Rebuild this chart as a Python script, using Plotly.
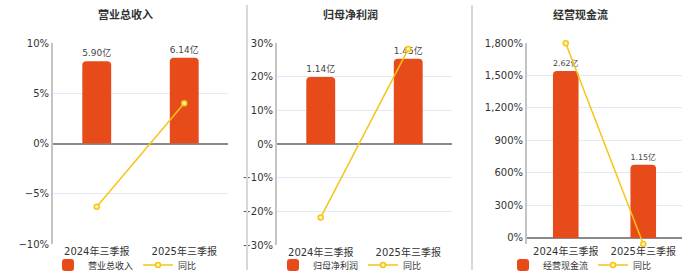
import plotly.graph_objects as go

W, H = 700, 272

categories = ["2024年三季报", "2025年三季报"]
titles = ["营业总收入", "归母净利润", "经营现金流"]

revenue = [5.90, 6.14]
revenue_yoy = [-6.3, 4.0]
profit = [1.14, 1.45]
profit_yoy = [-21.8, 28.2]
cashflow = [2.62, 1.15]
cashflow_yoy = [1797, -56]

bar_values = [revenue, profit, cashflow]
yoy_values = [revenue_yoy, profit_yoy, cashflow_yoy]

pct_ranges = [[-10, 10], [-30, 30], [-56, 1800]]
pct_dticks = [5, 10, 300]
bar_ranges = [[-7.2, 7.2], [-1.72, 1.72], [-0.094, 3.06]]

x_px = [(53, 228), (277, 452), (527, 682)]
y_px = [(43, 244), (43, 245), (43, 244)]
centers = [125, 350, 580]

BAR = "#E84B1A"
LINE = "#F5C518"
FONT = "Verdana, DejaVu Sans, Noto Sans CJK SC, sans-serif"

fig = go.Figure()
layout = dict(
    width=W, height=H, margin=dict(l=0, r=0, t=0, b=0, autoexpand=False),
    paper_bgcolor="white", plot_bgcolor="white",
    font=dict(family=FONT, size=10, color="#333"),
    barcornerradius=4,
    showlegend=True,
)

for i in range(3):
    n = i + 1
    xname = "x" if n == 1 else f"x{n}"
    ybar = "y" if n == 1 else f"y{n}"
    ypct = f"y{n + 3}"
    xkey = "xaxis" if n == 1 else f"xaxis{n}"
    ybarkey = "yaxis" if n == 1 else f"yaxis{n}"
    ypctkey = f"yaxis{n + 3}"
    legkey = "legend" if n == 1 else f"legend{n}"

    fig.add_trace(go.Bar(
        x=categories, y=bar_values[i], xaxis=xname, yaxis=ybar,
        name=titles[i], marker=dict(color=BAR, line=dict(width=0)),
        width=0.33,
        text=[f"{v:.2f}亿" for v in bar_values[i]],
        textposition="outside", textfont=dict(size=10, color="#444"),
        cliponaxis=False, legend=legkey, hoverinfo="skip",
    ))
    fig.add_trace(go.Scatter(
        x=categories, y=yoy_values[i], xaxis=xname, yaxis=ypct,
        name="同比", mode="lines+markers",
        line=dict(color=LINE, width=1.5),
        marker=dict(size=5, color="#FFF3B0", line=dict(color=LINE, width=1.5)),
        cliponaxis=False, legend=legkey, hoverinfo="skip",
    ))

    x0, x1 = x_px[i]
    yt, yb = y_px[i]
    layout[xkey] = dict(
        domain=[x0 / W, x1 / W], anchor=ybar, type="category",
        showgrid=False, showline=False, ticks="", automargin=False,
        tickfont=dict(size=10, color="#333"), fixedrange=True,
    )
    layout[ybarkey] = dict(
        domain=[1 - yb / H, 1 - yt / H], anchor=xname,
        range=bar_ranges[i], showgrid=False, zeroline=False,
        showticklabels=False, showline=False, fixedrange=True,
        automargin=False,
    )
    layout[ypctkey] = dict(
        overlaying=ybar, anchor=xname, side="left",
        range=pct_ranges[i], dtick=pct_dticks[i], tick0=0,
        ticksuffix="%", tickformat=",d", automargin=False,
        showgrid=True, gridcolor="#E6E9F4", gridwidth=1,
        zeroline=True, zerolinecolor="#8A8A8A", zerolinewidth=1.5,
        showline=True, linecolor="#C4C4C4", linewidth=2,
        tickfont=dict(size=10, color="#333"), fixedrange=True,
    )
    layout[legkey] = dict(
        orientation="h", x=centers[i] / W, xanchor="center",
        y=1 - 265 / H, yanchor="middle",
        font=dict(size=9, color="#333"), itemwidth=30,
        bgcolor="rgba(0,0,0,0)", tracegroupgap=0,
    )

fig.update_layout(**layout)

for i in range(3):
    fig.add_annotation(
        x=centers[i] / W, y=1 - 15 / H, xref="paper", yref="paper",
        xanchor="center", yanchor="middle",
        text=f"<b>{titles[i]}</b>", showarrow=False,
        font=dict(size=11, color="#333"),
    )

for sx in (247, 472):
    fig.add_shape(
        type="line", xref="paper", yref="paper",
        x0=sx / W, x1=sx / W, y0=1 - 270 / H, y1=1 - 5 / H,
        line=dict(color="#D8D8D8", width=2),
    )

fig.write_html("out.html")
